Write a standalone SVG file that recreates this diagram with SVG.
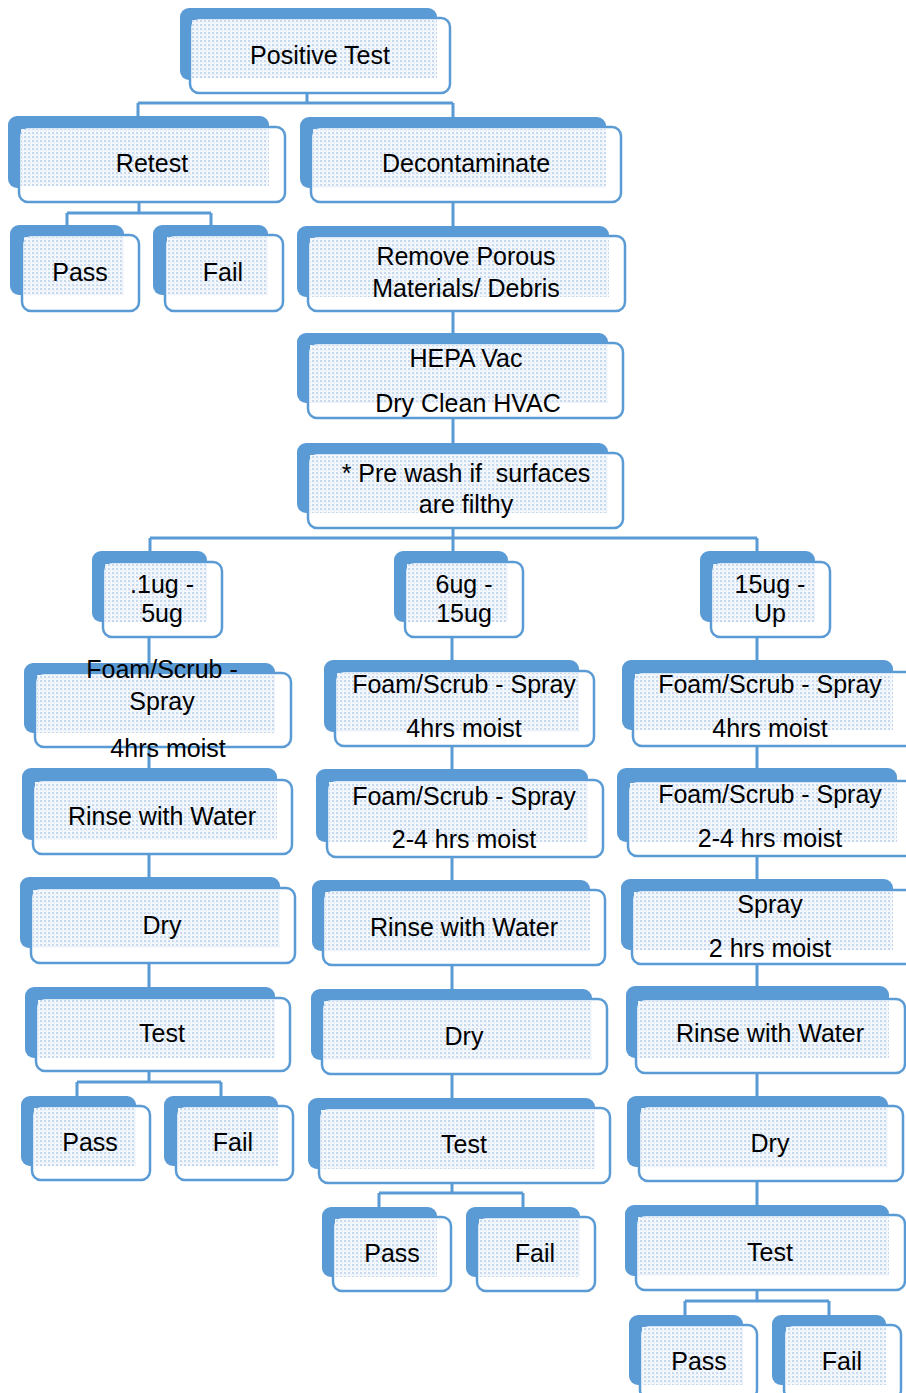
<svg xmlns="http://www.w3.org/2000/svg" width="906" height="1393" viewBox="0 0 906 1393">
<style>
.b{fill:#5B9BD5}
.f{fill:#fff;stroke:#5B9BD5;stroke-width:2.5}
.p{fill:url(#dots)}
.t{font-family:"Liberation Sans",Arial,sans-serif;font-size:25px;text-anchor:middle;fill:#000}
.c{fill:none;stroke:#5B9BD5;stroke-width:3}
</style>
<defs>
<pattern id="dots" width="4" height="4" patternUnits="userSpaceOnUse">
<rect width="4" height="4" fill="#f4f8fc"/>
<rect x="0" y="0" width="2" height="2" fill="#c6d9ee"/>
<rect x="2" y="2" width="1" height="1" fill="#dbe7f4"/>
</pattern>
</defs>
<rect width="906" height="1393" fill="#fff"/>
<g id="connectors">
<path class="c" d="M307,93V103M138,103H453M138,103V116M453,103V117"/>
<path class="c" d="M139,202V213M67,213H211M67,213V225M211,213V225"/>
<path class="c" d="M453,202V236M453,311V343M453,418V453M453,528V538M150,538H757M150,538V551M453,538V551M757,538V551"/>
<path class="c" d="M149,637V673M149,747V781M149,854V888M149,963V998M149,1071V1082M77,1082H221M77,1082V1096M221,1082V1096"/>
<path class="c" d="M452,637V671M452,745V780M452,856V890M452,965V999M452,1074V1108M452,1183V1193M379,1193H523M379,1193V1207M523,1193V1207"/>
<path class="c" d="M757,637V672M757,746V781M757,856V890M757,964V999M757,1073V1106M757,1181V1215M757,1290V1301M685,1301H829M685,1301V1315M829,1301V1315"/>
</g>
<g id="n1"><rect class="b" x="180" y="8" width="257" height="72" rx="9"/><rect class="f" x="190" y="18" width="260" height="75" rx="9"/><rect class="p" x="192" y="20" width="245" height="58"/><text class="t" x="320" y="64">Positive Test</text></g>
<g id="n2"><rect class="b" x="8" y="116" width="261" height="72" rx="9"/><rect class="f" x="19" y="127" width="266" height="75" rx="9"/><rect class="p" x="21" y="129" width="248" height="57"/><text class="t" x="152" y="172">Retest</text></g>
<g id="n3"><rect class="b" x="300" y="117" width="306" height="71" rx="9"/><rect class="f" x="311" y="127" width="310" height="75" rx="9"/><rect class="p" x="313" y="129" width="293" height="59"/><text class="t" x="466" y="172">Decontaminate</text></g>
<g id="n4"><rect class="b" x="10" y="225" width="114" height="70" rx="9"/><rect class="f" x="22" y="235" width="117" height="76" rx="9"/><rect class="p" x="24" y="237" width="100" height="58"/><text class="t" x="80" y="281">Pass</text></g>
<g id="n5"><rect class="b" x="153" y="225" width="115" height="70" rx="9"/><rect class="f" x="165" y="235" width="118" height="76" rx="9"/><rect class="p" x="167" y="237" width="101" height="58"/><text class="t" x="223" y="281">Fail</text></g>
<g id="n6"><rect class="b" x="297" y="226" width="312" height="71" rx="9"/><rect class="f" x="308" y="236" width="317" height="75" rx="9"/><rect class="p" x="310" y="238" width="299" height="59"/><text class="t" x="466" y="265">Remove Porous</text><text class="t" x="466" y="297">Materials/ Debris</text></g>
<g id="n7"><rect class="b" x="297" y="333" width="311" height="70" rx="9"/><rect class="f" x="308" y="343" width="315" height="75" rx="9"/><rect class="p" x="310" y="345" width="298" height="58"/><text class="t" x="466" y="367">HEPA Vac</text><text class="t" x="468" y="412">Dry Clean HVAC</text></g>
<g id="n8"><rect class="b" x="297" y="443" width="311" height="70" rx="9"/><rect class="f" x="308" y="453" width="315" height="75" rx="9"/><rect class="p" x="310" y="455" width="298" height="58"/><text class="t" x="466" y="482" xml:space="preserve">* Pre wash if  surfaces</text><text class="t" x="466" y="513">are filthy</text></g>
<g id="n9"><rect class="b" x="92" y="551" width="115" height="71" rx="9"/><rect class="f" x="103" y="562" width="119" height="75" rx="9"/><rect class="p" x="105" y="564" width="102" height="58"/><text class="t" x="162" y="593">.1ug -</text><text class="t" x="162" y="622">5ug</text></g>
<g id="n10"><rect class="b" x="394" y="551" width="114" height="71" rx="9"/><rect class="f" x="405" y="562" width="118" height="75" rx="9"/><rect class="p" x="407" y="564" width="101" height="58"/><text class="t" x="464" y="593">6ug -</text><text class="t" x="464" y="622">15ug</text></g>
<g id="n11"><rect class="b" x="700" y="551" width="115" height="71" rx="9"/><rect class="f" x="711" y="562" width="119" height="75" rx="9"/><rect class="p" x="713" y="564" width="102" height="58"/><text class="t" x="770" y="593">15ug -</text><text class="t" x="770" y="622">Up</text></g>
<g id="n12"><rect class="b" x="24" y="663" width="251" height="70" rx="9"/><rect class="f" x="35" y="673" width="256" height="74" rx="9"/><rect class="p" x="37" y="675" width="238" height="58"/><text class="t" x="162" y="678">Foam/Scrub -</text><text class="t" x="162" y="710">Spray</text><text class="t" x="168" y="757">4hrs moist</text></g>
<g id="n13"><rect class="b" x="22" y="768" width="255" height="72" rx="9"/><rect class="f" x="33" y="780" width="259" height="74" rx="9"/><rect class="p" x="35" y="782" width="242" height="58"/><text class="t" x="162" y="825">Rinse with Water</text></g>
<g id="n14"><rect class="b" x="20" y="877" width="260" height="71" rx="9"/><rect class="f" x="31" y="888" width="264" height="75" rx="9"/><rect class="p" x="33" y="890" width="247" height="58"/><text class="t" x="162" y="934">Dry</text></g>
<g id="n15"><rect class="b" x="25" y="987" width="250" height="71" rx="9"/><rect class="f" x="36" y="998" width="254" height="73" rx="9"/><rect class="p" x="38" y="1000" width="237" height="58"/><text class="t" x="162" y="1042">Test</text></g>
<g id="n16"><rect class="b" x="21" y="1096" width="115" height="70" rx="9"/><rect class="f" x="32" y="1106" width="118" height="74" rx="9"/><rect class="p" x="34" y="1108" width="102" height="58"/><text class="t" x="90" y="1151">Pass</text></g>
<g id="n17"><rect class="b" x="164" y="1096" width="114" height="70" rx="9"/><rect class="f" x="176" y="1106" width="117" height="74" rx="9"/><rect class="p" x="178" y="1108" width="100" height="58"/><text class="t" x="233" y="1151">Fail</text></g>
<g id="n18"><rect class="b" x="324" y="660" width="255" height="72" rx="9"/><rect class="f" x="335" y="671" width="259" height="75" rx="9"/><rect class="p" x="337" y="673" width="242" height="59"/><text class="t" x="464" y="693">Foam/Scrub - Spray</text><text class="t" x="464" y="737">4hrs moist</text></g>
<g id="n19"><rect class="b" x="316" y="769" width="272" height="73" rx="9"/><rect class="f" x="327" y="780" width="276" height="77" rx="9"/><rect class="p" x="329" y="782" width="259" height="60"/><text class="t" x="464" y="805">Foam/Scrub - Spray</text><text class="t" x="464" y="848">2-4 hrs moist</text></g>
<g id="n20"><rect class="b" x="312" y="880" width="278" height="71" rx="9"/><rect class="f" x="323" y="890" width="282" height="75" rx="9"/><rect class="p" x="325" y="892" width="265" height="59"/><text class="t" x="464" y="936">Rinse with Water</text></g>
<g id="n21"><rect class="b" x="311" y="989" width="281" height="71" rx="9"/><rect class="f" x="322" y="999" width="285" height="75" rx="9"/><rect class="p" x="324" y="1001" width="268" height="59"/><text class="t" x="464" y="1045">Dry</text></g>
<g id="n22"><rect class="b" x="308" y="1098" width="287" height="71" rx="9"/><rect class="f" x="319" y="1108" width="291" height="75" rx="9"/><rect class="p" x="321" y="1110" width="274" height="59"/><text class="t" x="464" y="1153">Test</text></g>
<g id="n23"><rect class="b" x="322" y="1207" width="115" height="70" rx="9"/><rect class="f" x="333" y="1217" width="118" height="74" rx="9"/><rect class="p" x="335" y="1219" width="102" height="58"/><text class="t" x="392" y="1262">Pass</text></g>
<g id="n24"><rect class="b" x="466" y="1207" width="114" height="70" rx="9"/><rect class="f" x="477" y="1217" width="118" height="74" rx="9"/><rect class="p" x="479" y="1219" width="101" height="58"/><text class="t" x="535" y="1262">Fail</text></g>
<g id="n25"><rect class="b" x="622" y="660" width="271" height="70" rx="9"/><rect class="f" x="633" y="672" width="285" height="74" rx="9"/><rect class="p" x="635" y="674" width="258" height="56"/><text class="t" x="770" y="693">Foam/Scrub - Spray</text><text class="t" x="770" y="737">4hrs moist</text></g>
<g id="n26"><rect class="b" x="617" y="768" width="280" height="74" rx="9"/><rect class="f" x="628" y="781" width="290" height="75" rx="9"/><rect class="p" x="630" y="783" width="267" height="59"/><text class="t" x="770" y="803">Foam/Scrub - Spray</text><text class="t" x="770" y="847">2-4 hrs moist</text></g>
<g id="n27"><rect class="b" x="621" y="879" width="272" height="71" rx="9"/><rect class="f" x="632" y="890" width="285" height="74" rx="9"/><rect class="p" x="634" y="892" width="259" height="58"/><text class="t" x="770" y="913">Spray</text><text class="t" x="770" y="957">2 hrs moist</text></g>
<g id="n28"><rect class="b" x="626" y="986" width="263" height="72" rx="9"/><rect class="f" x="636" y="999" width="269" height="74" rx="9"/><rect class="p" x="638" y="1001" width="251" height="57"/><text class="t" x="770" y="1042">Rinse with Water</text></g>
<g id="n29"><rect class="b" x="627" y="1096" width="261" height="71" rx="9"/><rect class="f" x="639" y="1106" width="264" height="75" rx="9"/><rect class="p" x="641" y="1108" width="247" height="59"/><text class="t" x="770" y="1152">Dry</text></g>
<g id="n30"><rect class="b" x="625" y="1205" width="264" height="71" rx="9"/><rect class="f" x="636" y="1215" width="269" height="75" rx="9"/><rect class="p" x="638" y="1217" width="251" height="59"/><text class="t" x="770" y="1261">Test</text></g>
<g id="n31"><rect class="b" x="629" y="1315" width="114" height="70" rx="9"/><rect class="f" x="640" y="1325" width="117" height="74" rx="9"/><rect class="p" x="642" y="1327" width="101" height="58"/><text class="t" x="699" y="1370">Pass</text></g>
<g id="n32"><rect class="b" x="772" y="1315" width="114" height="70" rx="9"/><rect class="f" x="784" y="1325" width="117" height="74" rx="9"/><rect class="p" x="786" y="1327" width="100" height="58"/><text class="t" x="842" y="1370">Fail</text></g>
</svg>
